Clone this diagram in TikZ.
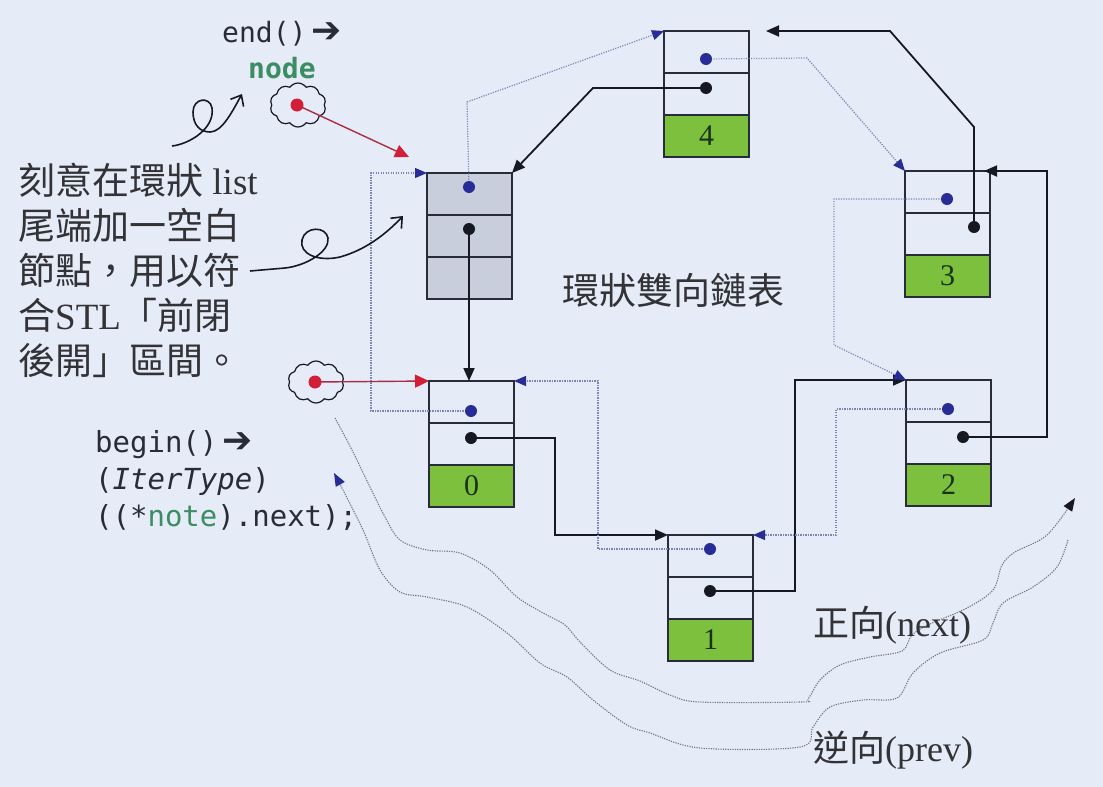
\documentclass[tikz,border=0pt]{standalone}
\usepackage{fontspec}
\setmainfont{Liberation Serif}
\setmonofont{DejaVu Sans Mono}
\newfontfamily\cjk{Noto Sans CJK TC}
\newfontfamily\dvs{DejaVu Sans}
\usetikzlibrary{arrows.meta,shapes.symbols,calc}
\definecolor{bg}{RGB}{230,236,247}
\definecolor{boxc}{RGB}{40,44,58}
\definecolor{grn}{RGB}{124,192,62}
\definecolor{gry}{RGB}{200,206,220}
\definecolor{bdot}{RGB}{40,44,150}
\definecolor{kdot}{RGB}{22,24,34}
\definecolor{rdot}{RGB}{210,30,55}
\definecolor{rline}{RGB}{170,45,65}
\definecolor{pline}{RGB}{125,133,180}
\definecolor{curvec}{RGB}{110,116,128}
\definecolor{txt}{RGB}{50,50,55}
\definecolor{codec}{RGB}{40,44,56}
\definecolor{codeg}{RGB}{60,140,100}
\definecolor{numc}{RGB}{25,50,25}
\newcommand\listcell[6]{%
  \node[cell, fill=#4] (#1a) at (#2+42.5,#3+21) {};
  \node[cell, fill=#4] (#1b) at (#2+42.5,#3+63) {};
  \node[cell, fill=#5, font=\fontsize{30}{30}\selectfont, text=numc] (#1c) at (#2+42.5,#3+105) {#6};
}
\newcommand\bigarrow{{\dvs\fontsize{36}{36}\selectfont ➔}}
\begin{document}
\begin{tikzpicture}[x=1pt,y=-1pt,
  cell/.style={draw=boxc, line width=1.6pt, minimum width=85pt, minimum height=42pt, inner sep=0pt, outer sep=0pt},
  dotnode/.style={circle, inner sep=0pt, minimum size=12pt},
  bluedot/.style={dotnode, fill=bdot},
  blackdot/.style={dotnode, fill=kdot},
  reddot/.style={dotnode, fill=rdot, minimum size=13pt},
  nextlink/.style={draw=kdot, line width=1.8pt, -{Triangle[length=13pt,width=11pt]}},
  prevlink/.style={draw=pline, line width=1.2pt, dash pattern=on 1.2pt off 1.3pt, -{Triangle[length=12pt,width=10pt,color=bdot]}},
  redlink/.style={draw=rline, line width=1.4pt, -{Triangle[length=14pt,width=13pt,color=rdot]}},
  squig/.style={draw=kdot, line width=1.6pt, -{Straight Barb[length=9pt,width=15pt]}},
  nextcurve/.style={draw=curvec, line width=1.1pt, dash pattern=on 1.2pt off 1.2pt, -{Triangle[length=13pt,width=10pt,color=kdot]}},
  prevcurve/.style={draw=curvec, line width=1.1pt, dash pattern=on 1.2pt off 1.2pt, -{Triangle[length=13pt,width=10pt,color=bdot]}},
  cloudy/.style={cloud, draw=kdot, line width=1.2pt, cloud puffs=10, cloud puff arc=110, aspect=1.3, inner sep=0pt},
  code/.style={anchor=base west, inner sep=0pt, font=\ttfamily\fontsize{29}{29}\selectfont, text=codec},
  zh/.style={anchor=base west, inner sep=0pt, font=\fontsize{37}{37}\selectfont, text=txt}
]
\useasboundingbox (0,0) rectangle (1103,787);
\fill[bg] (0,0) rectangle (1103,787);

% list nodes
\listcell{E}{427}{173}{gry}{gry}{}
\listcell{n0}{429}{381}{bg}{grn}{0}
\listcell{n1}{668}{535}{bg}{grn}{1}
\listcell{n2}{906}{380}{bg}{grn}{2}
\listcell{n3}{905}{171}{bg}{grn}{3}
\listcell{n4}{664}{31}{bg}{grn}{4}

% dot positions
\coordinate (Eu) at (469,187);  \coordinate (Ek) at (469,229);
\coordinate (n0u) at (471,411); \coordinate (n0k) at (471,438);
\coordinate (n1u) at (710,549); \coordinate (n1k) at (710,591);
\coordinate (n2u) at (948,409); \coordinate (n2k) at (963,437);
\coordinate (n3u) at (947,199); \coordinate (n3k) at (974,227);
\coordinate (n4u) at (706,59);  \coordinate (n4k) at (706,88);

% next links
\draw[nextlink] (Ek) -- (Ek |- n0a.north);
\draw[nextlink] (n0k) -- (555,438) |- (n1a.north west);
\draw[nextlink] (n1k) -- (795,591) |- (n2a.north west);
\draw[nextlink, shorten >=-6pt] (n2k) -- (1047,437) |- (n3a.north east);
\draw[nextlink, shorten >=17pt] (n3k) -- (974,127) -- (890,31) -- (n4a.north east);
\draw[nextlink] (n4k) -- (593,88) -- (Ea.north east);

% prev links
\draw[prevlink] (Eu) -- (467,102) -- (n4a.north west);
\draw[prevlink] (n0u) -- (371,411) |- (Ea.north west);
\draw[prevlink] (n1u) -- (598,549) |- (n0a.north east);
\draw[prevlink] (n2u) -- (836,409) |- (n1a.north east);
\draw[prevlink] (n3u) -- (834,199) -- (834,345) -- (n2a.north west);
\draw[prevlink] (n4u) -- (807,58) -- (n3a.north west);

% dots
\foreach \p in {Eu,n0u,n1u,n2u,n3u,n4u} \node[bluedot] at (\p) {};
\foreach \p in {Ek,n0k,n1k,n2k,n3k,n4k} \node[blackdot] at (\p) {};

% clouds and red pointers
\node[cloudy, minimum width=56pt, minimum height=44pt] (cl1) at (298,105) {};
\node[cloudy, minimum width=56pt, minimum height=42pt] (cl2) at (316,382) {};
\coordinate (tip1) at (409,157);
\coordinate (r1) at (297,105);
\coordinate (r2) at (315,382);
\draw[redlink] (r1) -- (tip1);
\draw[redlink] (r2) -- (n0a.north west);
\node[reddot] at (r1) {};
\node[reddot] at (r2) {};

% squiggles
\coordinate (s1a) at (172,146); \coordinate (s1b) at (242,94);
\draw[squig] (s1a) .. controls (190,144) and (215,128) .. (212,108) .. controls (210,96) and (193,98) .. (193,112) .. controls (193,125) and (200,132) .. (210,132) .. controls (222,132) and (232,112) .. (s1b);
\coordinate (s2a) at (250,271); \coordinate (s2b) at (403,216);
\draw[squig] (s2a) -- (285,268) .. controls (305,266) and (330,252) .. (328,238) .. controls (326,226) and (305,226) .. (302,240) .. controls (299,254) and (318,262) .. (340,257) .. controls (365,250) and (385,235) .. (s2b);

% traversal curves
\draw[nextcurve] plot[smooth, tension=0.55] coordinates {(335,418) (352,450) (370,487) (385,517) (400,540) (427,550) (460,553) (490,570) (517,597) (545,614) (565,625) (580,642) (610,670) (640,681) (670,695) (700,702) (800,702) (808,699) (820,680) (840,665) (870,657) (902,651) (912,635) (930,624) (967,608) (993,590) (1002,565) (1015,552) (1047,535) (1075,498)};
\draw[prevcurve] plot[smooth, tension=0.55] coordinates {(1068,540) (1057,567) (1033,587) (1003,603) (993,623) (983,640) (940,653) (913,673) (897,698) (863,700) (830,707) (813,727) (800,747) (700,748) (650,733) (627,725) (593,700) (567,677) (540,663) (507,633) (467,607) (427,597) (400,592) (380,570) (363,530) (343,490) (334,473)};

% code texts
\node[code, font=\ttfamily\fontsize{28}{28}\selectfont] (endt) at (222,42) {end()\,\bigarrow};
\node[code, font=\ttfamily\bfseries\fontsize{28}{28}\selectfont, text=codeg] (nodet) at (248,78) {node};
\node[code] (b1) at (95,452) {begin()\,\bigarrow};
\node[code] (b2) at (95,489) {(\textit{IterType})};
\node[code] (b3) at (95,526) {((*{\color{codeg}note}).next);};

% chinese texts
\node[zh] (z1) at (18,194) {{\cjk 刻意在環狀} list};
\node[zh] (z2) at (18,239) {{\cjk 尾端加一空白}};
\node[zh] (z3) at (18,284) {{\cjk 節點，用以符}};
\node[zh] (z4) at (18,329) {{\cjk 合}STL{\cjk 「前閉}};
\node[zh] (z5) at (18,374) {{\cjk 後開」區間。}};
\node[zh] (title) at (562,304) {{\cjk 環狀雙向鏈表}};
\node[zh, font=\fontsize{36}{36}\selectfont] (fw) at (813,636) {{\cjk 正向}(next)};
\node[zh, font=\fontsize{36}{36}\selectfont] (bw) at (813,761) {{\cjk 逆向}(prev)};
\end{tikzpicture}
\end{document}
